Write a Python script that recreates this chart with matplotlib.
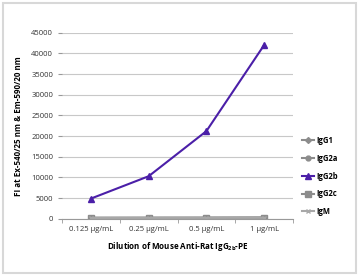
import matplotlib
matplotlib.use("Agg")
import matplotlib.pyplot as plt
import numpy as np
from matplotlib.patches import Rectangle

plt.rcParams['font.family'] = ['Open Sans', 'DejaVu Sans']

dilutions = ['0.125 µg/mL', '0.25 µg/mL', '0.5 µg/mL', '1 µg/mL']
igg1 = [250, 260, 270, 300]
igg2a = [220, 230, 240, 260]
igg2b = [4900, 10300, 21200, 42000]
igg2c = [230, 240, 250, 280]
igm = [210, 220, 230, 250]

fig = plt.figure(figsize=(3.59, 2.77), dpi=100)
fig.patches.append(Rectangle((0.008, 0.015), 0.984, 0.975, transform=fig.transFigure,
                             fill=False, edgecolor='#d8d8d8', linewidth=1.5))
ax = fig.add_axes([0.173, 0.21, 0.643, 0.672])

x = np.arange(len(dilutions))
ax.plot(x, igg1, color='#8c8c8c', marker='D', markersize=3, lw=1.5, label='IgG1')
ax.plot(x, igg2a, color='#8c8c8c', marker='o', markersize=3.5, lw=1.5, label='IgG2a')
ax.plot(x, igg2b, color='#4b1fa8', marker='^', markersize=4.5, lw=1.5, label='IgG2b')
ax.plot(x, igg2c, color='#8c8c8c', marker='s', markersize=4.5, lw=1.5, label='IgG2c')
ax.plot(x, igm, color='#a8a8a8', marker='x', markersize=3.5, lw=1.5, label='IgM')

ax.set_xlim(-0.5, 3.5)
ax.set_ylim(0, 45000)
ax.set_yticks(np.arange(0, 45001, 5000))
ax.set_xticks(x)
ax.set_xticklabels(dilutions)
ax.set_xticks(np.arange(-0.5, 4, 1), minor=True)
ax.tick_params(axis='x', which='major', length=0, labelsize=5.5, colors='#333333', pad=5)
ax.tick_params(axis='x', which='minor', length=3, color='#999999')
ax.tick_params(axis='y', length=3, color='#999999', labelsize=5.5, labelcolor='#333333')
ax.grid(axis='y', color='#c8c8c8', lw=0.8)
ax.set_axisbelow(True)
for s in ['top', 'right', 'left']:
    ax.spines[s].set_visible(False)
ax.spines['bottom'].set_color('#999999')

ax.set_xlabel(r'Dilution of Mouse Anti-Rat IgG$_{\mathregular{2b}}$-PE',
              fontsize=5.8, fontweight='bold', labelpad=5)
ax.set_ylabel('FI at Ex-540/25 nm & Em-590/20 nm', fontsize=5.8, fontweight='bold', labelpad=6)

ax.legend(loc='center left', bbox_to_anchor=(1.01, 0.23), frameon=False,
          handlelength=1.6, labelspacing=1.15, handletextpad=0.2, prop={'weight': 'bold', 'size': 5.5})

fig.savefig('out.png', dpi=100)
